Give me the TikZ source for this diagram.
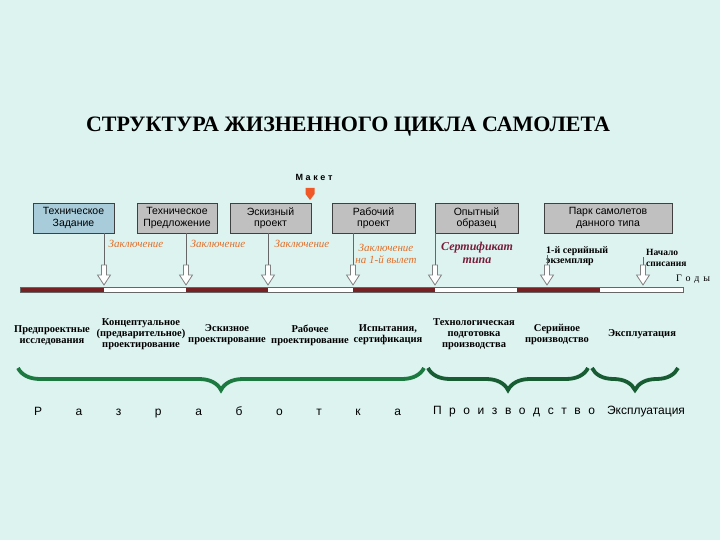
\documentclass[tikz,border=0pt]{standalone}
\usepackage{fontspec}
\setmainfont{Liberation Serif}
\setsansfont{Liberation Sans}
\usetikzlibrary{decorations.pathreplacing}

\definecolor{bgcol}{RGB}{220,243,240}
\definecolor{boxgray}{RGB}{192,192,192}
\definecolor{boxblue}{RGB}{168,204,218}
\definecolor{barred}{RGB}{118,34,36}
\definecolor{notecol}{RGB}{226,110,40}
\definecolor{certcol}{RGB}{120,28,56}
\definecolor{maketcol}{RGB}{240,88,40}
\definecolor{bracegreen}{RGB}{28,122,64}
\definecolor{bracedark}{RGB}{24,92,52}

\tikzset{
  stage/.style={draw=black!75, fill=boxgray, line width=0.8pt, minimum height=30, inner sep=2pt,
    font=\sffamily\fontsize{10.5}{11.5}\selectfont, align=center},
  note/.style={font=\itshape\fontsize{11}{12}\selectfont, text=notecol, align=center, inner sep=0pt},
  milestone/.style={font=\bfseries\fontsize{10}{10.5}\selectfont, align=left, inner sep=0pt, anchor=west},
  phase/.style={font=\bfseries\fontsize{10.5}{11}\selectfont, align=center, inner sep=0pt},
  link/.style={draw=black!60, line width=0.8pt},
  bracepath/.style={decorate, decoration={brace, mirror, amplitude=22pt}, line width=3.8pt},
  hollowarr/.pic={\draw[draw=black!50, fill=white, line width=0.8pt]
    (-2.5,0) -- (-2.5,10) -- (-6.5,10) -- (0,20) -- (6.5,10) -- (2.5,10) -- (2.5,0) -- cycle;}
}

\begin{document}
\begin{tikzpicture}[x=1pt, y=-1pt]
  \fill[bgcol] (0,0) rectangle (720,540);

  \node[font=\bfseries\fontsize{22}{24}\selectfont] (title) at (348,127) {СТРУКТУРА ЖИЗНЕННОГО ЦИКЛА САМОЛЕТА};

  % stages
  \node[stage, fill=boxblue, minimum width=81] (tz) at (73.5,218) {Техническое\\Задание};
  \node[stage, minimum width=80] (tp) at (177,218) {Техническое\\Предложение};
  \node[stage, minimum width=81] (ep) at (270.5,218) {Эскизный\\проект};
  \node[stage, minimum width=83] (rp) at (373.5,218) {Рабочий\\проект};
  \node[stage, minimum width=83] (os) at (476.5,218) {Опытный\\образец};
  \node[stage, minimum width=128] (park) at (608,218) {Парк самолетов\\данного типа};

  \node[font=\sffamily\bfseries\fontsize{9}{10}\selectfont, inner sep=0pt] (maket) at (314,177)
    {\makebox[37pt][s]{М\hfill а\hfill к\hfill е\hfill т}};
  \fill[maketcol] (305.5,188) -- (314.5,188) -- (314.5,194) -- (310,200) -- (305.5,194) -- cycle;

  % arrows onto the time axis
  \coordinate (a1) at (104,265);
  \coordinate (a2) at (186,265);
  \coordinate (a3) at (268,265);
  \coordinate (a4) at (353,265);
  \coordinate (a5) at (435,265);
  \coordinate (a6) at (547,265);
  \coordinate (a7) at (643,265);

  \draw[link] (a1 |- tz.south) -- (a1);
  \draw[link] (a2 |- tp.south) -- (a2);
  \draw[link] (a3 |- ep.south) -- (a3);
  \draw[link] (a4 |- rp.south) -- (a4);
  \draw[link] (a5 |- os.south) -- (a5);

  \node[note] (n1) at (136,244) {Заключение};
  \node[note] (n2) at (218,244) {Заключение};
  \node[note] (n3) at (302,244) {Заключение};
  \node[note] (n4) at (386,254) {Заключение\\на 1-й вылет};
  \node[note, font=\bfseries\itshape\fontsize{12}{13}\selectfont, text=certcol] (cert) at (477,253) {Сертификат\\типа};
  \node[milestone] (ser) at (546,256) {1-й серийный\\экземпляр};
  \node[milestone, font=\bfseries\fontsize{9.5}{10.5}\selectfont] (spis) at (646,258) {Начало\\списания};
  \draw[link] (a6) -- ++(0,-10);
  \draw[link] (a7) -- ++(0,-8);

  % time axis
  \fill[white] (20,287) rectangle (683,292);
  \foreach \a/\b in {20/104, 186/268, 353/435, 517/600}
    \fill[barred] (\a,287) rectangle (\b,292);
  \draw[black!60, line width=0.6pt] (20,287) rectangle (683,292);
  \foreach \p in {a1,a2,a3,a4,a5,a6,a7}
    \pic at (\p) {hollowarr};
  \node[font=\fontsize{10}{11}\selectfont, inner sep=0pt] (years) at (693,279)
    {\makebox[34pt][s]{Г\hfill о\hfill д\hfill ы}};

  % phases
  \node[phase] (p1) at (52,335) {Предпроектные\\исследования};
  \node[phase] (p2) at (141,334) {Концептуальное\\(предварительное)\\проектирование};
  \node[phase] (p3) at (227,335) {Эскизное\\проектирование};
  \node[phase] (p4) at (310,335) {Рабочее\\проектирование};
  \node[phase] (p5) at (388,335) {Испытания,\\сертификация};
  \node[phase] (p6) at (474,334) {Технологическая\\подготовка\\производства};
  \node[phase] (p7) at (557,335) {Серийное\\производство};
  \node[phase] (p8) at (642,334) {Эксплуатация};

  % braces
  \coordinate (b1l) at (18,368);
  \coordinate (b1r) at (424,368);
  \coordinate (b2l) at (428,368);
  \coordinate (b2r) at (588,368);
  \coordinate (b3l) at (592,368);
  \coordinate (b3r) at (678,368);
  \draw[bracepath, bracegreen] (b1l) -- (b1r);
  \draw[bracepath, bracedark] (b2l) -- (b2r);
  \draw[bracepath, bracedark] (b3l) -- (b3r);

  \node[font=\sffamily\fontsize{12}{14}\selectfont, inner sep=0pt] (razr) at (217.5,412)
    {\makebox[367pt][s]{Р\hfill а\hfill з\hfill р\hfill а\hfill б\hfill о\hfill т\hfill к\hfill а}};
  \node[font=\sffamily\fontsize{12}{14}\selectfont, inner sep=0pt] (proizv) at (514,412)
    {\makebox[162pt][s]{П\hfill р\hfill о\hfill и\hfill з\hfill в\hfill о\hfill д\hfill с\hfill т\hfill в\hfill о}};
  \node[font=\sffamily\fontsize{12}{14}\selectfont, inner sep=0pt] (ekspl) at (646,412) {Эксплуатация};
\end{tikzpicture}
\end{document}
